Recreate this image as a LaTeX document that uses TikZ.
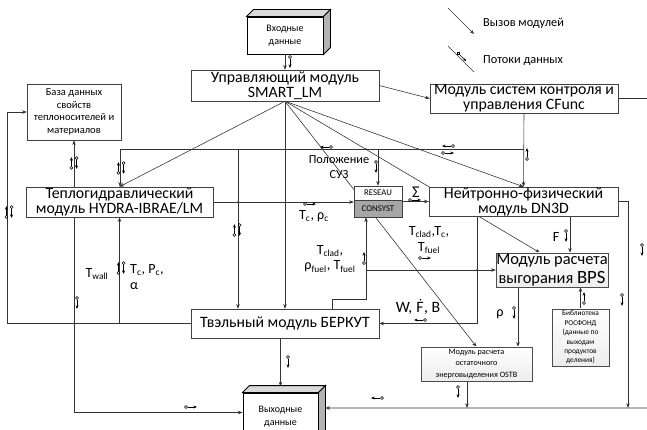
\documentclass[tikz,border=0pt]{standalone}
\usepackage{fontspec}
\setmainfont{Carlito}
\usepackage{tikz}
\usetikzlibrary{arrows.meta,positioning,backgrounds}

\tikzset{
    fluxo/.pic={
        \draw[line width=0.45pt] (-4.2pt,0) circle (1.3pt);
        \draw[line width=0.45pt,-{Stealth[length=3pt,width=2.6pt]}] (-2.9pt,0) -- (5pt,0);
    },
    duplo/.pic={
        \draw[line width=0.45pt] (-2.2pt,-4.2pt) circle (1.3pt);
        \draw[line width=0.45pt,-{Stealth[length=3pt,width=2.6pt]}] (-2.2pt,-2.9pt) -- (-2.2pt,5pt);
        \draw[line width=0.45pt] (2.2pt,4.2pt) circle (1.3pt);
        \draw[line width=0.45pt,-{Stealth[length=3pt,width=2.6pt]}] (2.2pt,2.9pt) -- (2.2pt,-5pt);
    }
}

\begin{document}
\begin{tikzpicture}[
    x=0.03cm, y=-0.03cm,
    >={Stealth[length=4pt,width=3pt]},
    modulo/.style={rectangle, draw=black!75, fill=white, inner sep=0pt, align=center, font=\fontsize{13.5}{12.8}\selectfont},
    bloco/.style={modulo, font=\fontsize{9}{10.8}\selectfont},
    dados/.style={rectangle, draw=black, thick, fill=white, inner sep=0pt, align=center, font=\fontsize{8.5}{11}\selectfont},
    face/.style={draw=black, thick},
    rede/.style={modulo, font=\fontsize{7.5}{8}\selectfont},
    calculo/.style={modulo, draw=black!70, top color=white, bottom color=gray!14},
    arco/.style={->, black!80, line width=0.5pt},
    linha/.style={black!80, line width=0.5pt},
    rotulo/.style={font=\fontsize{12}{13}\selectfont, inner sep=0pt, align=center},
    legenda/.style={font=\fontsize{10.5}{11}\selectfont, inner sep=0pt, anchor=west}
]
\useasboundingbox (0,0) rectangle (647,430);

% Dados de entrada e saída
\node[dados, minimum width=2.28cm, minimum height=1.11cm] (vhod) at (285,35.5) {Входные\\данные};
\node[dados, minimum width=2.25cm, minimum height=1.41cm] (vyhod) at (280.5,416.5) {Выходные\\данные};
\foreach \b in {vhod,vyhod}{
    \filldraw[face, fill=gray!30] (\b.north west) -- ([shift={(7,-7)}]\b.north west) -- ([shift={(7,-7)}]\b.north east) -- (\b.north east) -- cycle;
    \filldraw[face, fill=gray!60] (\b.north east) -- ([shift={(7,-7)}]\b.north east) -- ([shift={(7,-7)}]\b.south east) -- (\b.south east) -- cycle;
}

% Módulos
\node[modulo, minimum width=5.64cm, minimum height=0.93cm] (smart) at (285,85.5) {Управляющий модуль\\SMART\_LM};
\node[modulo, minimum width=5.64cm, minimum height=0.87cm] (cfunc) at (524,98.5) {Модуль систем контроля и\\управления CFunc};
\node[bloco, minimum width=2.82cm, minimum height=1.68cm] (baza) at (74,112) {База данных\\свойств\\теплоносителей и\\материалов};
\node[modulo, minimum width=5.61cm, minimum height=0.9cm] (hydra) at (119.5,202) {Теплогидравлический\\модуль HYDRA-IBRAE/LM};
\node[rede, minimum width=1.44cm, minimum height=0.42cm] (reseau) at (378,193) {RESEAU};
\node[rede, fill=gray!70, minimum width=1.44cm, minimum height=0.51cm] (consyst) at (378,208.5) {CONSYST};
\node[modulo, minimum width=5.67cm, minimum height=0.87cm] (dn3d) at (523.5,201.5) {Нейтронно-физический\\модуль DN3D};
\node[calculo, font=\fontsize{14}{16}\selectfont, minimum width=3.36cm, minimum height=1.02cm] (bps) at (552,270) {Модуль расчета\\выгорания {\fontsize{16}{16}\selectfont BPS}};
\node[calculo, font=\fontsize{6.3}{8}\selectfont, minimum width=1.71cm, minimum height=1.71cm] (rosfond) at (580.5,337.5) {Библиотека\\РОСФОНД\\(данные по\\выходам\\продуктов\\деления)};
\node[calculo, font=\fontsize{7}{10}\selectfont, minimum width=3.33cm, minimum height=1.02cm] (ostb) at (476.5,364) {Модуль расчета\\остаточного\\энерговыделения OSTB};
\node[modulo, minimum width=5.64cm, minimum height=0.87cm] (berkut) at (285,323.5) {Твэльный модуль БЕРКУТ};

% Pontos auxiliares
\coordinate (bus1) at (120,149);
\coordinate (bus2) at (238,149);
\coordinate (lado) at (7,0);
\coordinate (fb1) at (332,299);
\coordinate (fb2) at (366,299);
\coordinate (wx) at (477,0);
\coordinate (fx) at (570,0);
\coordinate (rx) at (518,0);
\coordinate (ox) at (467,0);
\coordinate (dx) at (628,0);
\coordinate (fundo) at (655,408);
\coordinate (saida) at ([yshift=0.12cm]vyhod.west);
\coordinate (entrada) at ([xshift=0.21cm,yshift=0.255cm]vyhod.east);
\coordinate (leg1a) at (448,8);
\coordinate (leg1b) at (474,34);
\coordinate (leg2a) at (448,46);
\coordinate (leg2b) at (474,72);

\begin{pgfonlayer}{background}
% Chamadas do módulo de controle
\draw[arco] (vhod.south) -- (smart.north);
\draw[arco] (smart.east) -- (cfunc.west);
\draw[arco] (smart.south) -- (hydra.north);
\draw[arco] (smart.south) -- (berkut.north);
\draw[arco] (smart.south) -- (ostb.north);
\draw[arco] (smart.south) -- ([xshift=-0.36cm]bps.north);
\draw[arco] (smart.south) -- (dn3d.north);
\draw[arco] (cfunc.south) -- (dn3d.north);

% Barramento de dados
\draw[linha] (bus1) -- (bus1 -| cfunc.south);
\draw[arco] (bus1) -- (bus1 |- hydra.north);
\draw[arco] (bus2) -- (bus2 |- berkut.north);
\draw[arco] (bus1 -| reseau.north) -- (reseau.north);

% Fluxos do HYDRA
\draw[arco] (hydra.east) -- (hydra.east -| reseau.west);
\draw[arco] (dn3d.west -| consyst.east) -- (dn3d.west);
\draw[arco] (baza.south |- hydra.north) -- (baza.south);
\draw[arco] (baza.south |- hydra.south) -- (baza.south |- saida) -- (saida);
\draw[arco] (berkut.west) -- (lado |- berkut.west) -- (lado |- baza.west) -- (baza.west);
\draw[arco] (hydra.south |- berkut.west) -- (hydra.south);

% Fluxos do БЕРКУТ
\draw[arco] (fb1 |- berkut.north) -- (fb1) -- (fb2) -- (fb2 |- consyst.south);
\draw[arco] (fb2 |- bps.west) -- (bps.west);
\draw[arco] (berkut.south -| vyhod.north) -- ([yshift=0.18cm]vyhod.north);

% Fluxos do DN3D e BPS
\draw[arco] (wx |- dn3d.south) -- (wx |- berkut.east) -- (berkut.east);
\draw[arco] (fx |- dn3d.south) -- (fx |- bps.north);
\draw[arco] (dn3d.east) -- (dx |- dn3d.east) -- (dx |- fundo);
\draw[arco] (rx |- bps.south) -- (rx |- ostb.north);
\draw[arco] (rosfond.north) -- (rosfond.north |- bps.south);
\draw[arco] (ox |- ostb.south) -- (ox |- fundo);
\draw[arco] (cfunc.east) -| (fundo) -- (entrada);

% Legenda
\draw[arco] (leg1a) -- (leg1b);
\draw[linha] (leg2a) -- (leg2b);
\end{pgfonlayer}

% Junções
\foreach \p in {(74,323.5),(238,202),(477,270),(322,149),(366,149),(418,149)}
    \fill[black!80] \p circle (0.8pt);

% Símbolos de fluxo de dados
\foreach \pos/\ang in {(290,62)/-90, (77,303)/-90, (191,407)/0, (288,362)/-90,
    (326,147)/180, (448,146)/180, (448,153)/0, (527,154)/90, (376,167)/-90,
    (310,204)/0, (415,200)/0, (364,258)/90, (425,258)/0, (566,236)/-90,
    (514,313)/-90, (584,298)/90, (622,300)/-90, (642,250)/-90, (420,320)/180,
    (458,392)/-90, (377,398)/180, (462,57)/-45}
    \pic[rotate=\ang] at \pos {fluxo};
\foreach \pos in {(74,163), (121,168), (9,212), (237,230), (121,268)}
    \pic at \pos {duplo};

% Rótulos
\node[rotulo, font=\fontsize{10.5}{12.8}\selectfont] (poloz) at (339,167) {Положение\\СУЗ};
\node[rotulo] (tcrc) at (314,216) {T\textsubscript{c}, ρ\textsubscript{c}};
\node[rotulo] (tclad1) at (330,259) {T\textsubscript{clad},\\ρ\textsubscript{fuel}, T\textsubscript{fuel}};
\node[rotulo] (tclad2) at (429,240) {T\textsubscript{clad},T\textsubscript{c},\\T\textsubscript{fuel}};
\node[rotulo, font=\fontsize{13.5}{13.5}\selectfont, anchor=base] (wfbF) at (420,313) {F};
\node[rotulo, font=\fontsize{13.5}{13.5}\selectfont, anchor=base east] (wfbW) at (wfbF.base west) {W,\ };
\node[rotulo, font=\fontsize{13.5}{13.5}\selectfont, anchor=base west] (wfbB) at (wfbF.base east) {, B};
\fill ([xshift=0.4pt,yshift=2.4pt]wfbF.north) circle (0.75pt);
\node[rotulo] (flbl) at (556,237) {F};
\node[rotulo] (rholbl) at (500,314) {ρ};
\node[rotulo, font=\fontsize{14}{14}\selectfont] (sigma) at (416,192) {Σ};
\node[rotulo] (twall) at (97,274) {T\textsubscript{wall}};
\node[rotulo, align=left, anchor=west] (tcpc) at (130,277) {T\textsubscript{c}, P\textsubscript{c},\\α};
\node[legenda] (leg1t) at (483,23) {Вызов модулей};
\node[legenda] (leg2t) at (483,61) {Потоки данных};

\end{tikzpicture}
\end{document}
